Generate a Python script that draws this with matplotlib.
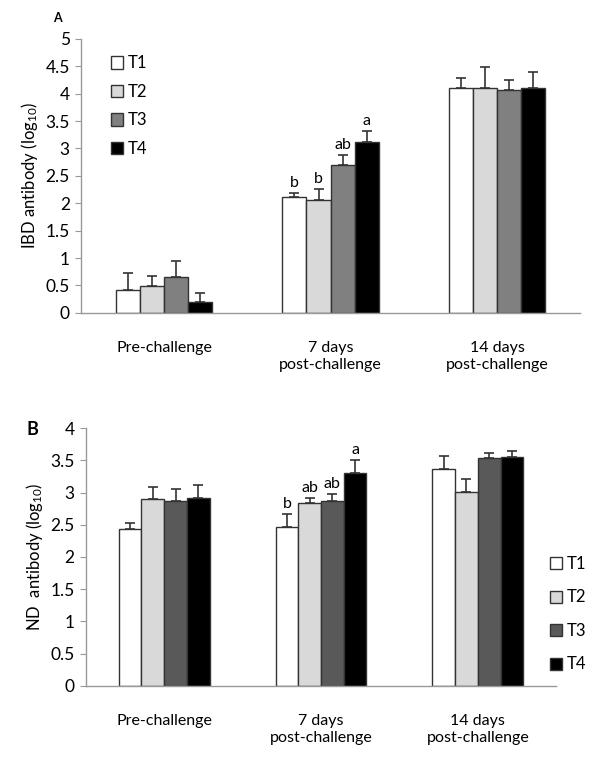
import numpy as np
import matplotlib.pyplot as plt

plt.rcParams['font.family'] = ['Lato', 'DejaVu Sans']
plt.rcParams['mathtext.fontset'] = 'custom'
plt.rcParams['mathtext.rm'] = 'Lato'
plt.rcParams['mathtext.it'] = 'Lato'

groups = ['Pre-challenge', '7 days\npost-challenge', '14 days\npost-challenge']
treatments = ['T1', 'T2', 'T3', 'T4']

# panel A: IBD antibody (log10), mean and upper error
ibd_mean = [[0.42, 2.11, 4.10],
            [0.49, 2.06, 4.10],
            [0.66, 2.69, 4.07],
            [0.19, 3.12, 4.11]]
ibd_err = [[0.31, 0.07, 0.19],
           [0.19, 0.20, 0.39],
           [0.28, 0.19, 0.18],
           [0.18, 0.20, 0.28]]
ibd_letters = [['', 'b', ''], ['', 'b', ''], ['', 'ab', ''], ['', 'a', '']]

# panel B: ND antibody (log10)
nd_mean = [[2.44, 2.46, 3.36],
           [2.90, 2.83, 3.01],
           [2.87, 2.87, 3.53],
           [2.92, 3.31, 3.55]]
nd_err = [[0.09, 0.21, 0.21],
          [0.18, 0.08, 0.20],
          [0.19, 0.11, 0.09],
          [0.19, 0.20, 0.09]]
nd_letters = [['', 'b', ''], ['', 'ab', ''], ['', 'ab', ''], ['', 'a', '']]

colors_a = ['white', '#d9d9d9', '#808080', 'black']
colors_b = ['white', '#d9d9d9', '#595959', 'black']


def draw_panel(ax, means, errs, letters, colors, ymax, ylabel):
    x = np.arange(len(groups))
    w = 0.145
    for i in range(len(treatments)):
        pos = x + (i - 1.5) * w
        ax.bar(pos, means[i], w, color=colors[i], edgecolor='#333333',
               linewidth=1.0, label=treatments[i], zorder=2)
        ax.errorbar(pos, means[i], yerr=[np.zeros(len(groups)), errs[i]],
                    fmt='none', ecolor='#333333', elinewidth=1.2,
                    capsize=3.5, capthick=1.2, zorder=3)
        for j in range(len(groups)):
            if letters[i][j]:
                ax.text(pos[j], means[i][j] + errs[i][j] + ymax * 0.012,
                        letters[i][j], ha='center', va='bottom', fontsize=11.5)
    ax.set_xlim(-0.5, 2.5)
    ax.set_ylim(0, ymax)
    ax.set_yticks(np.arange(0, ymax + 0.01, 0.5))
    ax.set_yticklabels(['%g' % v for v in np.arange(0, ymax + 0.01, 0.5)])
    ax.set_xticks(x)
    ax.set_xticklabels(groups, fontsize=11.5, linespacing=1.3)
    ax.tick_params(axis='x', length=0, pad=20)
    ax.tick_params(axis='y', length=4, color='#999999', labelsize=12.5, pad=4)
    for s in ['top', 'right']:
        ax.spines[s].set_visible(False)
    for s in ['left', 'bottom']:
        ax.spines[s].set_color('#999999')
        ax.spines[s].set_linewidth(1.0)
    ax.set_ylabel(ylabel, fontsize=12)


fig = plt.figure(figsize=(6, 7.63), dpi=100)

ax1 = fig.add_axes([0.135, 0.590, 0.832, 0.359])
draw_panel(ax1, ibd_mean, ibd_err, ibd_letters, colors_a, 5,
           'IBD antibody (log$_{10}$)')
ax1.legend(loc='upper left', bbox_to_anchor=(0.03, 0.995), frameon=False,
           fontsize=12, handlelength=0.75, handleheight=0.75,
           handletextpad=0.25, labelspacing=0.75)
fig.text(0.088, 0.977, 'A', fontsize=9, fontweight='bold', va='center')

ax2 = fig.add_axes([0.143, 0.101, 0.784, 0.338])
draw_panel(ax2, nd_mean, nd_err, nd_letters, colors_b, 4,
           'ND  antibody (log$_{10}$)')
ax2.legend(loc='center left', bbox_to_anchor=(0.905, 0.195),
           bbox_transform=fig.transFigure, borderaxespad=0, frameon=False,
           fontsize=12, handlelength=0.75, handleheight=0.75,
           handletextpad=0.25, labelspacing=1.05)
fig.text(0.045, 0.437, 'B', fontsize=13, fontweight='bold', va='center')

fig.savefig('out.png', dpi=100)
